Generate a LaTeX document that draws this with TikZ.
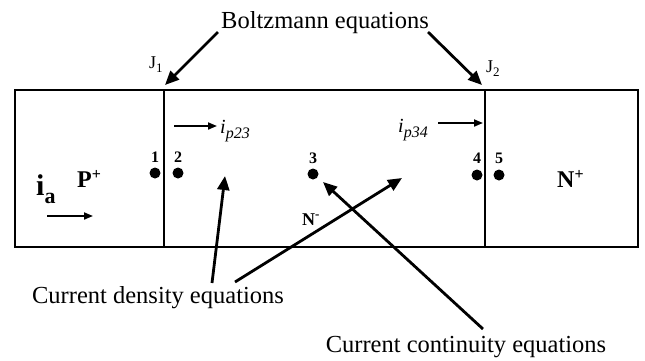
\documentclass[tikz,border=0pt]{standalone}
\usepackage{fontspec}
\setmainfont{Liberation Serif}
\usetikzlibrary{arrows.meta}
\begin{document}
\begin{tikzpicture}[x=1pt,y=-1pt,
  lbl/.style={inner sep=0pt, font=\fontsize{24.5}{27}\selectfont},
  region/.style={inner sep=0pt, anchor=base west, font=\fontsize{24}{26}\selectfont\bfseries},
  jlbl/.style={inner sep=0pt, anchor=base west, font=\fontsize{18}{20}\selectfont},
  num/.style={inner sep=0pt, anchor=base, font=\fontsize{16}{18}\selectfont\bfseries},
  cur/.style={inner sep=0pt, anchor=base west, font=\fontsize{20}{22}\selectfont\itshape},
  bigarrow/.style={line width=2.8pt, -{Triangle[length=14pt,width=12pt]}},
  smallarrow/.style={line width=1.8pt, -{Triangle[length=9pt,width=7pt]}},
  dot/.style={circle, fill, inner sep=0pt, minimum size=11pt},
  boxline/.style={line width=2.8pt},
  junction/.style={line width=1.9pt}]
\useasboundingbox (0,0) rectangle (645,360);

% device outline and junctions
\draw[boxline] (15,90) rectangle (638,247);
\coordinate (j1t) at (164,90);
\coordinate (j1b) at (164,247);
\coordinate (j2t) at (485,90);
\coordinate (j2b) at (485,247);
\draw[junction] (j1t) -- (j1b);
\draw[junction] (j2t) -- (j2b);

% top labels
\node[lbl, anchor=base] (boltz) at (325,28) {Boltzmann equations};
\node[jlbl] (J1) at (149,68) {J\raisebox{-4pt}{\fontsize{13}{13}\selectfont 1}};
\node[jlbl] (J2) at (486,72) {J\raisebox{-4pt}{\fontsize{13}{13}\selectfont 2}};
\coordinate (bl) at (218,32);
\coordinate (br) at (428,32);
\coordinate (bltip) at (165,85);
\coordinate (brtip) at (482,85);
\draw[bigarrow] (bl) -- (bltip);
\draw[bigarrow] (br) -- (brtip);

% regions
\node[region] (ia) at (36,195) {\fontsize{30}{30}\selectfont i\raisebox{-8pt}{\fontsize{22}{22}\selectfont a}};
\node[region] (P) at (77,187) {P\raisebox{8pt}{\fontsize{16}{16}\selectfont +}};
\node[region] (Np) at (557,187) {N\raisebox{8pt}{\fontsize{16}{16}\selectfont +}};
\node[region, font=\fontsize{18}{20}\selectfont\bfseries] (Nm) at (302,225) {N\raisebox{7pt}{\fontsize{13}{13}\selectfont -}};
\coordinate (ias) at (47,216);
\coordinate (iae) at (93,216);
\draw[smallarrow] (ias) -- (iae);

% nodes 1..5
\node[dot] (d1) at (155,173) {};
\node[dot] (d2) at (178,173) {};
\node[dot] (d3) at (313,174) {};
\node[dot] (d4) at (477,175) {};
\node[dot] (d5) at (499,175) {};
\node[num] (n1) at (155,162) {1};
\node[num] (n2) at (178,162) {2};
\node[num] (n3) at (313,163) {3};
\node[num] (n4) at (477,163) {4};
\node[num] (n5) at (499,163) {5};

% currents
\node[cur] (ip23) at (220,133) {i\raisebox{-5pt}{\fontsize{16}{16}\selectfont p23}};
\node[cur] (ip34) at (398,132) {i\raisebox{-5pt}{\fontsize{16}{16}\selectfont p34}};
\coordinate (a23s) at (174,126);
\coordinate (a23e) at (217,126);
\coordinate (a34s) at (438,123);
\coordinate (a34e) at (483,123);
\draw[smallarrow] (a23s) -- (a23e);
\draw[smallarrow] (a34s) -- (a34e);

% bottom labels
\node[lbl, anchor=base] (dens) at (158,303) {Current density equations};
\node[lbl, anchor=base] (cont) at (466,352) {Current continuity equations};
\coordinate (da) at (212,283);
\coordinate (dat) at (225,176);
\coordinate (db) at (235,282);
\coordinate (dbt) at (402,178);
\coordinate (ca) at (483,329);
\coordinate (cat) at (323,182);
\draw[bigarrow] (da) -- (dat);
\draw[bigarrow] (db) -- (dbt);
\draw[bigarrow] (ca) -- (cat);
\end{tikzpicture}
\end{document}
